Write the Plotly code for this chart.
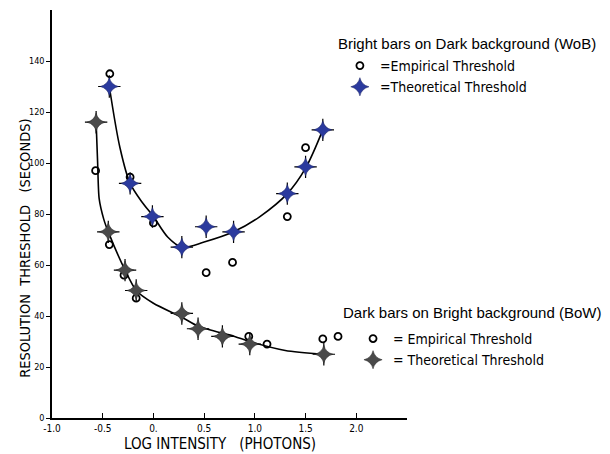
import plotly.graph_objects as go

# ---- data ----
wob_emp_x = [-0.43, -0.23, 0.0, 0.28, 0.52, 0.78, 1.32, 1.50, 1.67]
wob_emp_y = [135, 94.5, 76.5, 67, 57, 61, 79, 106, 113]
wob_theo_x = [-0.435, -0.23, -0.01, 0.28, 0.52, 0.79, 1.32, 1.50, 1.67]
wob_theo_y = [130, 92, 79, 67, 75, 73, 88, 98.5, 113]
wob_curve_x = [-0.435, -0.33, -0.23, -0.1, 0.0, 0.14, 0.28, 0.5, 0.79, 1.05, 1.32, 1.5, 1.67]
wob_curve_y = [130, 106, 92, 84, 79, 71, 67, 69, 73, 79, 88, 98, 113]

bow_emp_x = [-0.57, -0.435, -0.29, -0.17, 0.94, 1.12, 1.67, 1.82]
bow_emp_y = [97, 68, 56, 47, 32, 29, 31, 32]
bow_theo_x = [-0.565, -0.445, -0.28, -0.17, 0.28, 0.44, 0.68, 0.95, 1.68]
bow_theo_y = [116, 73, 58, 50, 41, 35, 32, 29, 25]
bow_curve_x = [-0.565, -0.55, -0.535, -0.49, -0.445, -0.28, -0.17, 0.0, 0.28, 0.44, 0.8, 0.95, 1.3, 1.68]
bow_curve_y = [116, 100, 86, 78, 73, 58, 50, 45, 39.5, 36, 32, 30, 26.5, 25]

x_tick_vals = [-1.0, -0.5, 0.0, 0.5, 1.0, 1.5, 2.0]
x_tick_text = ["-1.0", "-0.5", "0.", "0.5", "1.0", "1.5", "2.0"]
y_tick_vals = [0, 20, 40, 60, 80, 100, 120, 140]
y_tick_text = ["0", "20", "40", "60", "80", "100", "120", "140"]

BLUE = "#2b3a9e"
GRAY = "#4a4a4a"
HAND = "DejaVu Sans Condensed"

fig = go.Figure()

# curves
fig.add_trace(go.Scatter(x=wob_curve_x, y=wob_curve_y, mode="lines", line=dict(color="black", width=1.6, shape="spline", smoothing=0.9), showlegend=False, hoverinfo="skip"))
fig.add_trace(go.Scatter(x=bow_curve_x, y=bow_curve_y, mode="lines", line=dict(color="black", width=1.6, shape="spline", smoothing=0.7), showlegend=False, hoverinfo="skip"))

# WoB
fig.add_trace(go.Scatter(x=wob_emp_x, y=wob_emp_y, mode="markers", name="=Empirical Threshold",
                         marker=dict(symbol="circle-open", size=7, color="black", line=dict(width=1.8)), legend="legend"))
fig.add_trace(go.Scatter(x=wob_theo_x, y=wob_theo_y, mode="markers", showlegend=False, hoverinfo="skip",
                         marker=dict(symbol="cross-thin-open", size=16, color="black", line=dict(width=1.2, color="black"))))
fig.add_trace(go.Scatter(x=wob_theo_x, y=wob_theo_y, mode="markers", name="=Theoretical Threshold",
                         marker=dict(symbol="star-diamond", size=13, color=BLUE, line=dict(width=0.5, color="#1a2260")), legend="legend"))

# BoW
fig.add_trace(go.Scatter(x=bow_emp_x, y=bow_emp_y, mode="markers", name="= Empirical Threshold",
                         marker=dict(symbol="circle-open", size=7, color="black", line=dict(width=1.8)), legend="legend2"))
fig.add_trace(go.Scatter(x=bow_theo_x, y=bow_theo_y, mode="markers", showlegend=False, hoverinfo="skip",
                         marker=dict(symbol="cross-thin-open", size=16, color="black", line=dict(width=1.2, color="black"))))
fig.add_trace(go.Scatter(x=bow_theo_x, y=bow_theo_y, mode="markers", name="= Theoretical Threshold",
                         marker=dict(symbol="star-diamond", size=13, color=GRAY, line=dict(width=0.5, color="#222222")), legend="legend2"))

fig.update_layout(
    width=610, height=454,
    margin=dict(l=44, r=211, t=2, b=44, autoexpand=False),
    paper_bgcolor="white", plot_bgcolor="white",
    font=dict(family=HAND, color="black", size=11),
    xaxis=dict(range=[-1.0, 2.5], tickvals=x_tick_vals, ticktext=x_tick_text, showgrid=False, zeroline=False,
               showline=True, linecolor="black", linewidth=1.5, ticks="inside", ticklen=5, tickcolor="black",
               tickfont=dict(family=HAND, size=10), automargin=False),
    yaxis=dict(range=[0, 160], tickvals=y_tick_vals, ticktext=y_tick_text, showgrid=False, zeroline=False,
               showline=True, linecolor="black", linewidth=1.5, ticks="outside", ticklen=4, tickcolor="black",
               tickfont=dict(family=HAND, size=9), automargin=False),
    legend=dict(x=0.811, y=0.902, xanchor="left", yanchor="top", bgcolor="rgba(0,0,0,0)",
                font=dict(family=HAND, size=14), itemwidth=30, tracegroupgap=0),
    legend2=dict(x=0.848, y=0.233, xanchor="left", yanchor="top", bgcolor="rgba(0,0,0,0)",
                 font=dict(family=HAND, size=14), itemwidth=30, tracegroupgap=0),
    annotations=[
        dict(text="RESOLUTION  THRESHOLD   (SECONDS)", textangle=-90, xref="paper", yref="paper",
             x=0, y=0.444, xshift=-27, yshift=-12, xanchor="center", yanchor="middle", showarrow=False,
             font=dict(family=HAND, size=14.5)),
        dict(text="LOG INTENSITY   (PHOTONS)", xref="paper", yref="paper",
             x=0.5, y=0, yshift=-26, xshift=-10, xanchor="center", yanchor="middle", showarrow=False,
             font=dict(family=HAND, size=15)),
        dict(text="Bright bars on Dark background (WoB)", xref="paper", yref="paper",
             x=0, xshift=284, y=1, yshift=-33, xanchor="left", yanchor="middle", showarrow=False,
             font=dict(family="Liberation Sans", size=15)),
        dict(text="Dark bars on Bright background (BoW)", xref="paper", yref="paper",
             x=0, xshift=289, y=0, yshift=106, xanchor="left", yanchor="middle", showarrow=False,
             font=dict(family="Liberation Sans", size=15)),
    ],
)

fig.write_html("out.html")
